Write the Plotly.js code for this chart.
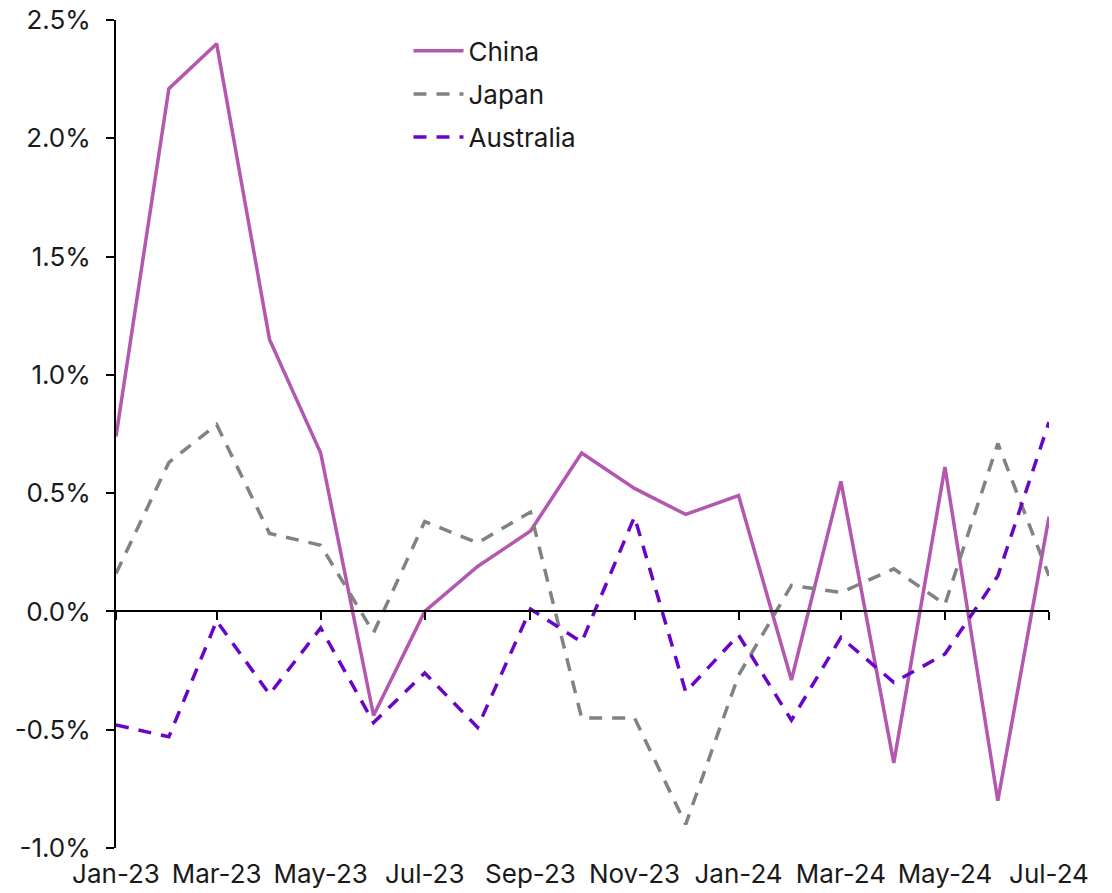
<!DOCTYPE html>
<html>
<head>
<meta charset="utf-8">
<script src="https://cdn.plot.ly/plotly-3.0.1.min.js"></script>
<style>
html,body{margin:0;padding:0;background:#fff;}
#chart{width:1112px;height:893px;}
</style>
</head>
<body>
<div id="chart"></div>
<script>
const months = ['2023-01-01','2023-02-01','2023-03-01','2023-04-01','2023-05-01','2023-06-01','2023-07-01','2023-08-01','2023-09-01','2023-10-01','2023-11-01','2023-12-01','2024-01-01','2024-02-01','2024-03-01','2024-04-01','2024-05-01','2024-06-01','2024-07-01'];
const china = [0.74, 2.21, 2.40, 1.15, 0.67, -0.44, 0.00, 0.19, 0.34, 0.67, 0.52, 0.41, 0.49, -0.29, 0.55, -0.64, 0.61, -0.80, 0.40];
const japan = [0.16, 0.63, 0.79, 0.33, 0.28, -0.09, 0.38, 0.29, 0.42, -0.45, -0.45, -0.90, -0.27, 0.11, 0.08, 0.18, 0.03, 0.71, 0.15];
const australia = [-0.48, -0.53, -0.04, -0.35, -0.07, -0.47, -0.26, -0.49, 0.01, -0.13, 0.40, -0.34, -0.10, -0.46, -0.11, -0.30, -0.18, 0.15, 0.80];
const yTickVals = [-1.0, -0.5, 0.0, 0.5, 1.0, 1.5, 2.0, 2.5];
const yTickText = ['-1.0%', '-0.5%', '0.0%', '0.5%', '1.0%', '1.5%', '2.0%', '2.5%'];

const FONT = 'Inter, Roboto, "Liberation Sans", sans-serif';
const FS = 26;
const TXT = '#1a1a1a';
const xRange = ['2023-01-01', '2024-07-01'];

const traces = [
  {x: months, y: china, name: 'China', type: 'scatter', mode: 'lines', legend: 'legend',
   line: {color: '#B457AF', width: 3.5}},
  {x: months, y: japan, name: 'Japan', type: 'scatter', mode: 'lines', legend: 'legend2',
   line: {color: '#828282', width: 3.5, dash: '13px,10px'}},
  {x: months, y: australia, name: 'Australia', type: 'scatter', mode: 'lines', legend: 'legend3',
   line: {color: '#6A05C8', width: 3.5, dash: '13px,10px'}},
  {x: months, y: china, xaxis: 'x2', type: 'scatter', mode: 'markers',
   marker: {opacity: 0, size: 1}, showlegend: false, hoverinfo: 'skip'}
];

function leg(y) {
  return {x: 0.3135, y: y, xanchor: 'left', yanchor: 'middle', itemwidth: 50,
          font: {family: FONT, size: FS, color: TXT}, bgcolor: 'rgba(0,0,0,0)'};
}

const layout = {
  width: 1112, height: 893,
  margin: {l: 116, r: 63, t: 20, b: 45},
  paper_bgcolor: '#fff', plot_bgcolor: '#fff',
  font: {family: FONT, size: FS, color: TXT},
  showlegend: true,
  legend: leg(0.9626),
  legend2: leg(0.9106),
  legend3: leg(0.8587),
  xaxis: {type: 'date', range: xRange, tick0: '2023-01-01', dtick: 'M2',
          tickformat: '%b-%y', showline: false, ticks: '', showgrid: false,
          zeroline: false, ticklabelstandoff: 8,
          tickfont: {family: FONT, size: FS, color: TXT}},
  xaxis2: {type: 'date', range: xRange, tick0: '2023-01-01', dtick: 'M2',
           overlaying: 'x', anchor: 'free', position: 1/3.5, side: 'bottom',
           showline: true, linecolor: '#000', linewidth: 2,
           ticks: 'outside', ticklen: 8, tickwidth: 2, tickcolor: '#000',
           showticklabels: false, showgrid: false, zeroline: false},
  yaxis: {range: [-1, 2.5], tickvals: yTickVals, ticktext: yTickText,
          showline: true, linecolor: '#000', linewidth: 2,
          ticks: 'outside', ticklen: 8, tickwidth: 2, tickcolor: '#000',
          showgrid: false, zeroline: false, ticklabelstandoff: 10,
          tickfont: {family: FONT, size: FS, color: TXT}}
};

Plotly.newPlot('chart', traces, layout, {displayModeBar: false, staticPlot: true});
</script>
</body>
</html>
